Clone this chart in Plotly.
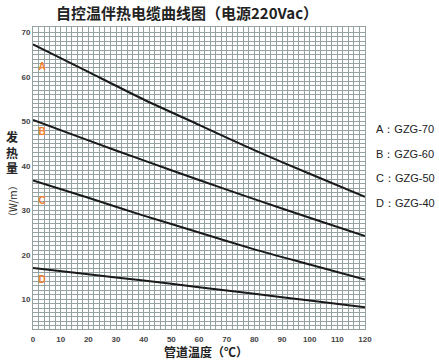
import plotly.graph_objects as go

temps = [0, 20, 40, 60, 80, 100, 120]
series_a = [67.3, 61.1, 54.9, 49.2, 43.5, 38.2, 33.0]
series_b = [50.3, 45.7, 41.2, 36.8, 32.5, 28.3, 24.2]
series_c = [36.7, 32.8, 28.8, 25.0, 21.2, 17.8, 14.4]
series_d = [17.0, 15.6, 14.2, 12.7, 11.2, 9.7, 8.2]
series_names = ["A", "B", "C", "D"]
legend_texts = ["A：GZG-70", "B：GZG-60", "C：GZG-50", "D：GZG-40"]
label_x = [3.3, 3.3, 3.3, 3.3]
label_y = [62.2, 47.4, 31.9, 14.2]
x_ticks = [0, 10, 20, 30, 40, 50, 60, 70, 80, 90, 100, 110, 120]
y_ticks = [10, 20, 30, 40, 50, 60, 70]

GRID = "#95a2a2"
CJK = "Noto Sans CJK SC"
W, H = 439, 364
ML, MR, MT, MB = 33, 74, 27, 35

fig = go.Figure()
for ys in [series_a, series_b, series_c, series_d]:
    fig.add_trace(go.Scatter(x=temps, y=ys, mode="lines",
                             line=dict(color="#1a1a1a", width=2, shape="spline", smoothing=0.6),
                             showlegend=False, hoverinfo="skip"))

fig.add_trace(go.Scatter(x=label_x, y=label_y, mode="text", text=series_names,
                         textfont=dict(color="#f07f2a", size=10, family="Liberation Sans", weight="bold"),
                         showlegend=False, hoverinfo="skip"))

tickfont = dict(size=8, color="#444", family="Liberation Sans", weight="bold")
fig.update_layout(
    width=W, height=H,
    margin=dict(l=ML, r=MR, t=MT, b=MB),
    paper_bgcolor="white", plot_bgcolor="white",
    font=dict(family=CJK, color="#222"),
    xaxis=dict(range=[0, 120], tickvals=x_ticks, showgrid=True, gridcolor=GRID, gridwidth=1,
               zeroline=False, showline=True, linecolor=GRID, mirror=True,
               ticks="", tickfont=tickfont, ticklabelstandoff=2,
               minor=dict(dtick=2, tick0=0, showgrid=True, gridcolor=GRID, gridwidth=1)),
    yaxis=dict(range=[3.3, 71.2], tickvals=y_ticks, showgrid=True, gridcolor=GRID, gridwidth=1,
               zeroline=False, showline=True, linecolor=GRID, mirror=True,
               ticks="", tickfont=tickfont,
               minor=dict(dtick=1, tick0=0, showgrid=True, gridcolor=GRID, gridwidth=1)),
)

ann = []
ann.append(dict(text="<b>自控温伴热电缆曲线图（电源220Vac）</b>", x=187, y=12,
                font=dict(size=15, family=CJK, color="#222")))
for i, t in enumerate(legend_texts):
    ann.append(dict(text=t, x=374, y=129 + 24.7 * i, xanchor="left",
                    font=dict(size=11, family="Liberation Sans", color="#222")))
ann.append(dict(text="<b>发<br>热<br>量</b>", x=12, y=152,
                font=dict(size=12, family=CJK, color="#222")))
ann.append(dict(text="（W/m）", x=12, y=201, textangle=-90,
                font=dict(size=10, family=CJK, color="#222")))
ann.append(dict(text="<b>管道温度（℃）</b>", x=206, y=351,
                font=dict(size=12, family=CJK, color="#222")))

# convert pixel positions (from top-left) to paper coords
pw, ph = W - ML - MR, H - MT - MB
for a in ann:
    a["x"] = (a["x"] - ML) / pw
    a["y"] = (H - a["y"] - MB) / ph
    a.setdefault("xanchor", "center")
    a.update(xref="paper", yref="paper", showarrow=False, yanchor="middle")
fig.update_layout(annotations=ann)

fig.write_html("out.html", config={"displayModeBar": False},
               post_script="document.body.style.margin='0';")
